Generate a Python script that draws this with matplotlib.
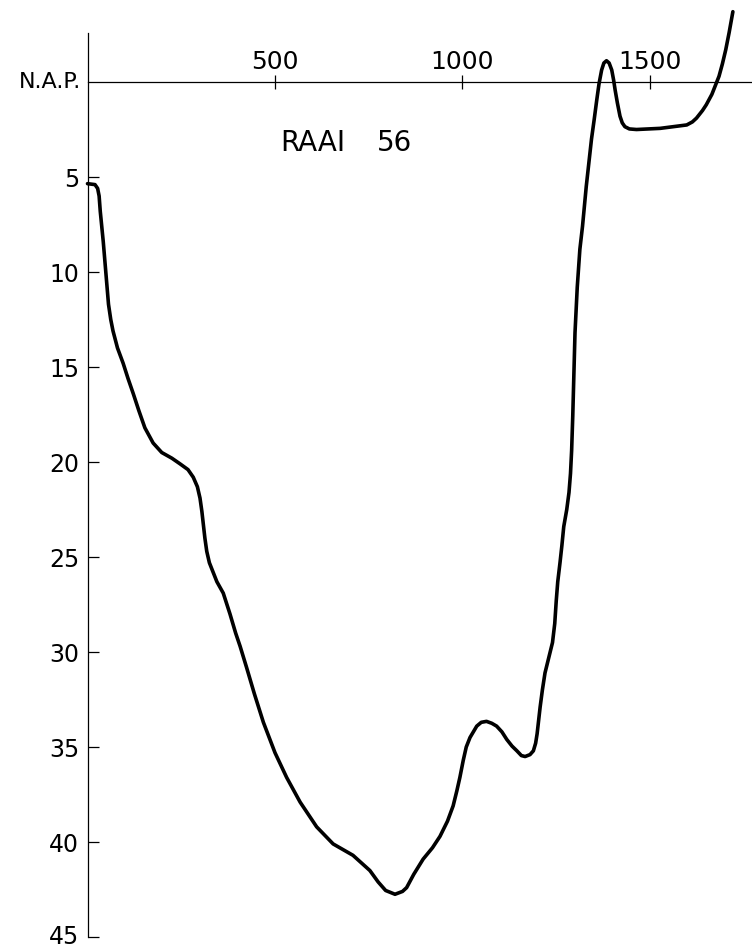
import numpy as np
import matplotlib.pyplot as plt
from matplotlib.transforms import ScaledTranslation

# profiel RAAI 56 : afstand (m) en diepte t.o.v. N.A.P. (m)
afstand = [0, 20, 27, 31, 34, 38, 42, 47, 51, 56, 62, 68, 80, 95, 108, 122,
           137, 153, 175, 198, 225, 247, 268, 282, 293, 300, 305, 309, 313,
           318, 325, 335, 345, 362, 380, 395, 407, 424, 445, 469, 500, 531,
           567, 611, 655, 708, 753, 775, 795, 820, 840, 851, 870, 895, 920,
           940, 960, 975, 985, 993, 1002, 1010, 1020, 1038, 1050, 1064, 1078,
           1091, 1105, 1118, 1132, 1145, 1157, 1167, 1180, 1189, 1195, 1199,
           1203, 1207, 1213, 1220, 1230, 1240, 1246, 1250, 1254, 1260, 1265,
           1270, 1278, 1284, 1288, 1291, 1294, 1297, 1300, 1306, 1313, 1320,
           1330, 1344, 1351, 1358, 1364, 1371, 1377, 1384, 1391, 1398, 1403,
           1407, 1413, 1420, 1426, 1433, 1445, 1464, 1527, 1598, 1613, 1624,
           1640, 1650, 1665, 1675, 1684, 1693, 1702, 1711, 1721]
diepte = [5.35, 5.4, 5.6, 6.0, 6.8, 7.6, 8.4, 9.6, 10.6, 11.7, 12.5, 13.1,
          14.0, 14.8, 15.6, 16.4, 17.3, 18.2, 19.0, 19.5, 19.8, 20.1, 20.4,
          20.8, 21.3, 21.9, 22.6, 23.3, 24.0, 24.7, 25.3, 25.8, 26.3, 26.9,
          28.0, 29.0, 29.7, 30.8, 32.2, 33.7, 35.3, 36.6, 37.9, 39.2, 40.1,
          40.7, 41.5, 42.1, 42.55, 42.75, 42.6, 42.4, 41.7, 40.9, 40.3, 39.7,
          38.9, 38.1, 37.3, 36.6, 35.7, 35.0, 34.5, 33.9, 33.7, 33.65, 33.75,
          33.9, 34.2, 34.6, 34.95, 35.2, 35.45, 35.5, 35.4, 35.2, 34.8, 34.3,
          33.6, 32.9, 32.0, 31.1, 30.3, 29.5, 28.5, 27.3, 26.3, 25.3, 24.4,
          23.4, 22.5, 21.6, 20.6, 19.4, 17.6, 15.5, 13.2, 10.8, 8.8, 7.6,
          5.5, 3.0, 2.0, 0.95, 0.1, -0.63, -1.0, -1.12, -1.0, -0.63, -0.1,
          0.42, 1.1, 1.8, 2.15, 2.35, 2.47, 2.5, 2.44, 2.26, 2.1, 1.9, 1.5,
          1.2, 0.65, 0.15, -0.3, -0.95, -1.7, -2.6, -3.7]

x_ticks = [500, 1000, 1500]
y_ticks = [5, 10, 15, 20, 25, 30, 35, 40, 45]

fig = plt.figure(figsize=(7.52, 9.49), dpi=100)
ax = fig.add_axes([87.5 / 752, 0, 1 - 87.5 / 752, 1])

ax.plot(afstand, diepte, color='black', lw=2.6, solid_capstyle='round',
        solid_joinstyle='round', clip_on=False)

ax.set_xlim(0, 1772)
ax.set_ylim(45.63, -4.316)

# assen
ax.spines['right'].set_visible(False)
ax.spines['bottom'].set_visible(False)
ax.spines['top'].set_position(('data', 0))
ax.spines['left'].set_bounds(-2.6, 45)
ax.spines['left'].set_linewidth(0.9)
ax.spines['top'].set_linewidth(0.9)

ax.xaxis.tick_top()
ax.set_xticks(x_ticks)
ax.tick_params(axis='x', direction='inout', length=10, width=0.9, pad=1,
               labelsize=18)
ax.set_yticks(y_ticks)
ax.tick_params(axis='y', direction='in', length=8, width=0.9, pad=6,
               labelsize=17)

# onderste label iets omhoog zodat het binnen het beeld valt
lab45 = ax.get_yticklabels()[-1]
lab45.set_transform(lab45.get_transform() +
                    ScaledTranslation(0, 3 / 100, fig.dpi_scale_trans))

ax.text(-0.01, 0, 'N.A.P.', transform=ax.get_yaxis_transform(),
        ha='right', va='center', fontsize=16, clip_on=False)
ax.text(600, 3.2, 'RAAI', ha='center', va='center', fontsize=20)
ax.text(820, 3.2, '56', ha='center', va='center', fontsize=20)

plt.savefig('out.png', dpi=100)
